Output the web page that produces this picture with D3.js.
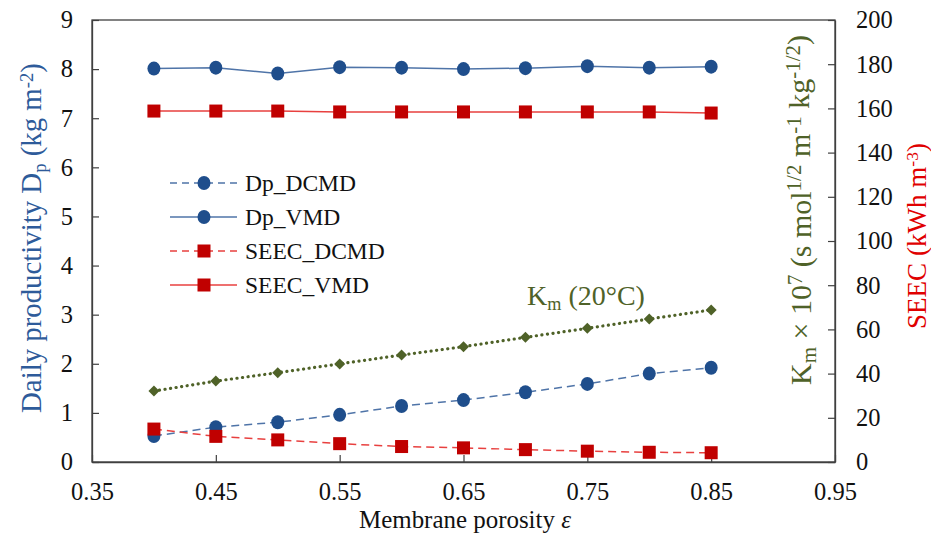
<!DOCTYPE html>
<html><head><meta charset="utf-8">
<script src="https://cdn.jsdelivr.net/npm/d3@7"></script>
<style>body{margin:0;background:#fff}svg{display:block}</style>
</head><body><svg id="c" width="931" height="539" font-family="Liberation Serif"></svg>
<script>
const porosity = [0.40,0.45,0.50,0.55,0.60,0.65,0.70,0.75,0.80,0.85];
const dpDCMD = [0.53,0.71,0.81,0.96,1.14,1.26,1.42,1.59,1.80,1.92];
const dpVMD = [8.01,8.03,7.91,8.04,8.03,8.00,8.02,8.06,8.03,8.05];
const seecDCMD = [14.9,11.6,10.0,8.3,7.0,6.4,5.6,4.9,4.4,4.2];
const seecVMD = [158.8,158.8,158.8,158.4,158.4,158.4,158.4,158.4,158.4,157.9];
const km = [32.1,36.6,40.4,44.4,48.4,52.2,56.4,60.5,64.7,68.8];
const xTicks = [0.35,0.45,0.55,0.65,0.75,0.85,0.95];
const yLeftTicks = [0,1,2,3,4,5,6,7,8,9];
const yRightTicks = [0,20,40,60,80,100,120,140,160,180,200];
const legendNames = ["Dp_DCMD","Dp_VMD","SEEC_DCMD","SEEC_VMD"];

const FAM = "Liberation Serif";
const svg = d3.select("#c");
const L=92,R=835,T=20,B=462;
const x = d3.scaleLinear().domain([0.35,0.95]).range([L,R]);
const yL = d3.scaleLinear().domain([0,9]).range([B,T]);
const yR = d3.scaleLinear().domain([0,200]).range([B,T]);

const blueM="#1f4e8c", blueL="#4f74a8", redM="#c00000", redL="#e8403f", green="#4f6228";

function setFont(t){ t.attr("font-family",FAM).style("font-family",`"${FAM}"`); return t; }

svg.append("rect").attr("x",L).attr("y",T).attr("width",R-L).attr("height",B-T)
  .attr("fill","none").attr("stroke","#404040").attr("stroke-width",1.3);

const ax = svg.append("g").attr("transform",`translate(0,${B})`)
  .call(d3.axisBottom(x).tickValues(xTicks).tickSizeInner(-7).tickSizeOuter(0).tickPadding(21).tickFormat(d3.format(".2f")));
const al = svg.append("g").attr("transform",`translate(${L},0)`)
  .call(d3.axisLeft(yL).tickValues(yLeftTicks).tickSizeInner(-7).tickSizeOuter(0).tickPadding(19).tickFormat(d3.format("d")));
const ar = svg.append("g").attr("transform",`translate(${R},0)`)
  .call(d3.axisRight(yR).tickValues(yRightTicks).tickSizeInner(-7).tickSizeOuter(0).tickPadding(21).tickFormat(d3.format("d")));
[ax,al,ar].forEach(g=>{
  g.attr("font-family",FAM).attr("font-size",24.5);
  g.select(".domain").attr("stroke","#404040").attr("stroke-width",1.3);
  g.selectAll(".tick line").attr("stroke","#404040").attr("stroke-width",1.2);
  setFont(g.selectAll("text")).attr("fill","#111").attr("font-size",24.5);
});

function series(vals, ys, lineColor, markColor, dash, shape){
  const line = d3.line().x((d,i)=>x(porosity[i])).y(d=>ys(d));
  svg.append("path").datum(vals).attr("d",line).attr("fill","none")
    .attr("stroke",lineColor).attr("stroke-width",shape==="diamond"?3.2:1.5)
    .attr("stroke-dasharray",dash).attr("stroke-linecap",shape==="diamond"?"round":"butt");
  const g = svg.append("g");
  vals.forEach((d,i)=>{
    const cx=x(porosity[i]), cy=ys(d);
    if(shape==="circle") g.append("ellipse").attr("cx",cx).attr("cy",cy).attr("rx",6.5).attr("ry",7).attr("fill",markColor);
    else if(shape==="square") g.append("rect").attr("x",cx-6.5).attr("y",cy-6.5).attr("width",13).attr("height",13).attr("fill",markColor);
    else g.append("path").attr("d",`M${cx},${cy-5.5}L${cx+5.5},${cy}L${cx},${cy+5.5}L${cx-5.5},${cy}Z`).attr("fill",markColor);
  });
}
series(km, yR, green, green, "0.1 5.5", "diamond");
series(dpVMD, yL, blueL, blueM, null, "circle");
series(seecVMD, yR, redL, redM, null, "square");
series(dpDCMD, yL, blueL, blueM, "8 5", "circle");
series(seecDCMD, yR, redL, redM, "8 5", "square");

const legStyle = [
  {c:blueL, m:blueM, dash:"7 5", s:"circle"},
  {c:blueL, m:blueM, dash:null, s:"circle"},
  {c:redL, m:redM, dash:"7 5", s:"square"},
  {c:redL, m:redM, dash:null, s:"square"}];
legendNames.forEach((n,i)=>{
  const d = legStyle[i];
  const yy = 183 + i*34;
  svg.append("line").attr("x1",170).attr("x2",237).attr("y1",yy).attr("y2",yy)
    .attr("stroke",d.c).attr("stroke-width",1.5).attr("stroke-dasharray",d.dash);
  if(d.s==="circle") svg.append("ellipse").attr("cx",204).attr("cy",yy).attr("rx",6.5).attr("ry",7).attr("fill",d.m);
  else svg.append("rect").attr("x",197.5).attr("y",yy-6.5).attr("width",13).attr("height",13).attr("fill",d.m);
  setFont(svg.append("text")).attr("x",245).attr("y",yy+8).attr("font-size",23.5).attr("fill","#111").text(n);
});

function parts(t, arr, supScale){
  const ss = supScale || 0.65;
  arr.forEach(([s,kind])=>{
    const sp = setFont(t.append("tspan")).text(s);
    if(kind==="sub") sp.attr("font-size",ss+"em").attr("dy","0.25em");
    if(kind==="sup") sp.attr("font-size",ss+"em").attr("dy","-0.45em");
    if(kind==="back") sp.attr("dy","-0.16em");
    if(kind==="down") sp.attr("dy","0.29em");
    if(kind==="it") sp.attr("font-style","italic");
  });
}
function fit(t, target){
  t.attr("font-size",20);
  const len = t.node().getComputedTextLength();
  t.attr("font-size", +(20*target/len).toFixed(2));
}
function title(tx, fill, arr, target, supScale){
  const t = setFont(svg.append("text")).attr("fill",fill);
  if(tx.rot) t.attr("transform",`translate(${tx.x},${tx.y}) rotate(-90)`).attr("text-anchor","middle");
  else t.attr("x",tx.x).attr("y",tx.y).attr("text-anchor",tx.anchor||"start");
  parts(t, arr, supScale);
  fit(t, target);
  return t;
}

title({x:527,y:305}, green, [["K",""],["m","sub"],[" (20°C)","back"]], 118);
title({x:465,y:528,anchor:"middle"}, "#111", [["Membrane porosity ",""],["ε","it"]], 212);
title({x:41,y:238,rot:true}, "#2e5b9a", [["Daily productivity D",""],["p","sub"],[" (kg m","back"],["-2","sup"],[")","down"]], 350);
title({x:811,y:210,rot:true}, green, [["K",""],["m","sub"],[" × 10","back"],["7","sup"],[" (s mol","down"],["1/2","sup"],[" m","down"],["-1","sup"],[" kg","down"],["-1/2","sup"],[")","down"]], 350, 0.7);
title({x:926,y:236,rot:true}, "#e00000", [["SEEC (kWh m",""],["-3","sup"],[")","down"]], 186);
</script></body></html>
